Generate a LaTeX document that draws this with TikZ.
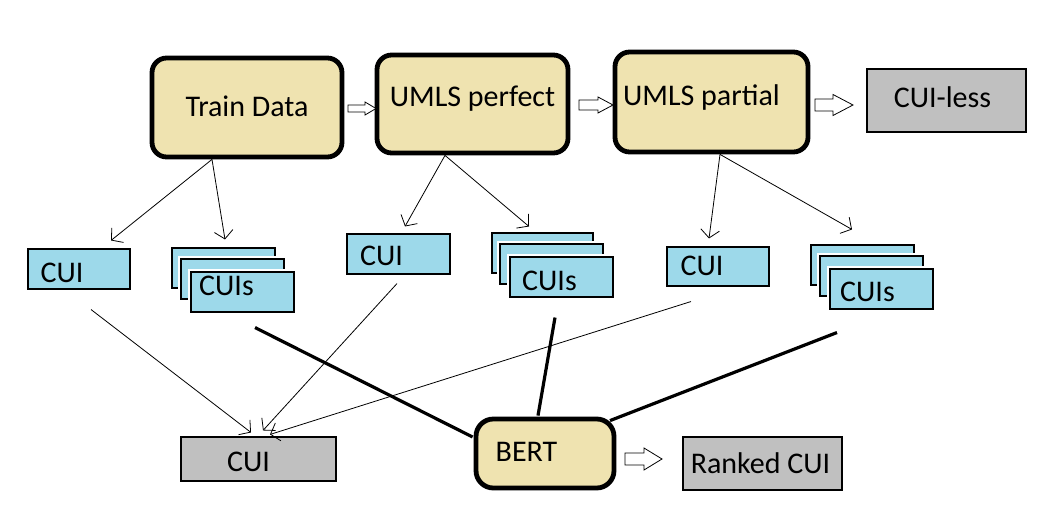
\documentclass[tikz,border=0pt]{standalone}
\usepackage{fontspec}
\setmainfont{Carlito}
\usetikzlibrary{fit,calc,arrows.meta}
\definecolor{beigefill}{HTML}{EFE3B0}
\definecolor{cuiblue}{HTML}{9DD9EA}
\definecolor{cuigray}{HTML}{C0C0C0}
% #1: twice the horizontal shift (pt), #2: vertical shift (pt)
\newcommand\sh[3]{\hspace*{#1pt}\raisebox{\dimexpr#2pt-7pt\relax}[\height][\depth]{#3}}
\newcommand\harrow[6]{%
  \draw[fill=white, line width=0.6pt]
    (#1,{#2-#4/2}) -- ({#3-#6},{#2-#4/2}) -- ({#3-#6},{#2-#5/2}) -- (#3,#2)
    -- ({#3-#6},{#2+#5/2}) -- ({#3-#6},{#2+#4/2}) -- (#1,{#2+#4/2}) -- cycle;}
\begin{document}
\begin{tikzpicture}[x=0.75pt,y=-0.75pt,
  font=\fontsize{22.5}{27}\selectfont,
  procbox/.style={draw, line width=3.6pt, rounded corners=11pt, fill=beigefill, inner sep=0pt},
  cuibox/.style={draw, line width=0.8pt, fill=cuiblue, inner sep=0pt},
  graybox/.style={draw, line width=0.8pt, fill=cuigray, inner sep=0pt},
  halo/.style={preaction={draw=white, line width=4.5pt}},
  thinarrow/.style={line width=0.6pt, -{Straight Barb[length=6pt,width=14pt]}},
  thickline/.style={line width=2.4pt}]
\useasboundingbox[fill=white] (0,0) rectangle (1043,528);

% top row
\node[procbox, fit={(152,58)(342,157)}] (td) {\sh{0}{0}{Train Data}};
\node[procbox, fit={(377,55)(568,153)}] (perf) {\sh{0}{3.4}{UMLS perfect}};
\node[procbox, fit={(615,52)(808,152)}] (part) {\sh{-15}{2.25}{UMLS partial}};
\node[graybox, fit={(867,69)(1026,132)}] (less) {\sh{-6}{1.5}{CUI-less}};

\harrow{348}{108.5}{376}{7}{13}{11}
\harrow{579}{105}{613}{10}{16}{15}
\harrow{815}{105}{853}{12}{21}{20}

% middle row
\node[cuibox, fit={(28,249)(130,289)}] (cuiA) {\sh{-25.5}{-3}{CUI}};
\node[cuibox, fit={(172,248)(275,288)}] (sA1) {};
\node[cuibox, halo, fit={(181,259)(284,299)}] (sA2) {};
\node[cuibox, halo, fit={(191,272)(294,312)}] (sA3) {\sh{-24}{4.5}{CUIs}};

\node[cuibox, fit={(347,234)(450,274)}] (cuiB) {\sh{-25.5}{-1.5}{CUI}};
\node[cuibox, fit={(492,233)(593,273)}] (sB1) {};
\node[cuibox, halo, fit={(500,244)(603,284)}] (sB2) {};
\node[cuibox, halo, fit={(510,257)(613,297)}] (sB3) {\sh{-18}{-3}{CUIs}};

\node[cuibox, fit={(667,247)(769,286)}] (cuiC) {\sh{-24}{0}{CUI}};
\node[cuibox, fit={(811,245)(914,285)}] (sC1) {};
\node[cuibox, halo, fit={(820,256)(923,296)}] (sC2) {};
\node[cuibox, halo, fit={(830,269)(933,309)}] (sC3) {\sh{-21}{-2.25}{CUIs}};

% bottom row
\node[graybox, fit={(181,437)(336,481)}] (cuiD) {\sh{-15}{-2.25}{CUI}};
\node[procbox, rounded corners=13pt, fit={(476,419)(614,488)}] (bert) {\sh{-27.75}{0.75}{BERT}};
\node[graybox, fit={(683,437)(842,490)}] (rank) {\sh{-3}{-0.75}{Ranked CUI}};

\harrow{625}{459}{662}{12}{22}{18}

% thin arrows top -> middle
\draw[thinarrow] ($(td.south)+(-35,0)$) -- ($(cuiA.north)+(32,-8)$);
\draw[thinarrow] ($(td.south)+(-35,0)$) -- ($(sA1.north)+(1.5,-8)$);
\draw[thinarrow] ($(perf.south)+(-27.5,0)$) -- ($(cuiB.north)+(6.5,-7)$);
\draw[thinarrow] ($(perf.south)+(-27.5,0)$) -- ($(sB1.north)+(-13.5,-6)$);
\draw[thinarrow] ($(part.south)+(8.5,0)$) -- ($(cuiC.north)+(-9,-8)$);
\draw[thinarrow] ($(part.south)+(8.5,0)$) -- ($(sC1.north)+(-10.5,-15)$);

% thin arrows middle -> bottom CUI
\draw[thinarrow] ($(cuiA.south)+(12,20)$) -- ($(cuiD.north)+(-7.5,-4)$);
\draw[thinarrow] ($(cuiB.south)+(-1.5,9)$) -- ($(cuiD.north)+(4.5,-6)$);
\draw[thinarrow] ($(cuiC.south)+(-27,15)$) -- ($(cuiD.north)+(11.5,-2)$);

% thick lines to BERT
\draw[thickline] ($(sA3.south)+(12.5,15)$) -- ($(bert.west)+(-1,-16.5)$);
\draw[thickline] ($(sB3.south)+(-6.5,20)$) -- ($(bert.north)+(-7,-1)$);
\draw[thickline] ($(sC3.south)+(-44.5,23)$) -- ($(bert.north)+(65,4)$);
\end{tikzpicture}
\end{document}
